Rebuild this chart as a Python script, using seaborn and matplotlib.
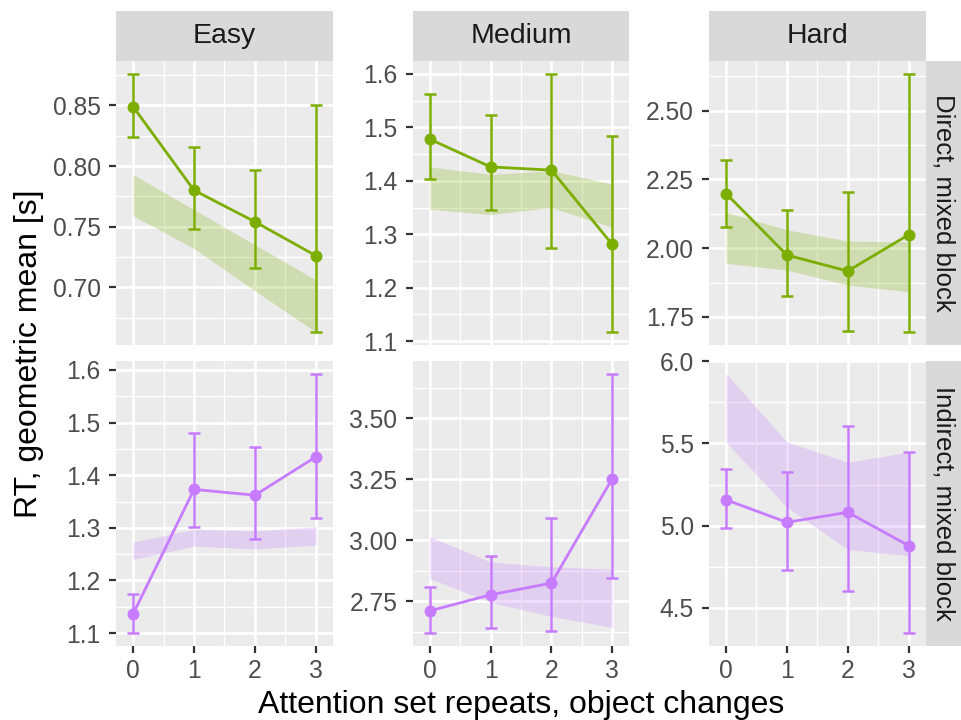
import numpy as np
import pandas as pd
import matplotlib
matplotlib.use("Agg")
import matplotlib.pyplot as plt
from matplotlib.ticker import FixedLocator, FormatStrFormatter
import seaborn as sns

sns.set_theme(style="darkgrid")
plt.rcParams['font.family'] = ['Liberation Sans', 'DejaVu Sans']

difficulties = ["Easy", "Medium", "Hard"]
blocks = ["Direct, mixed block", "Indirect, mixed block"]
repeats = [0, 1, 2, 3]

# observed geometric-mean RT [s] with 95% CI, per block x difficulty
direct_easy_rt = [0.849, 0.780, 0.754, 0.726]
direct_easy_lo = [0.824, 0.748, 0.716, 0.663]
direct_easy_hi = [0.876, 0.816, 0.797, 0.850]
direct_medium_rt = [1.478, 1.426, 1.420, 1.281]
direct_medium_lo = [1.403, 1.345, 1.274, 1.117]
direct_medium_hi = [1.563, 1.524, 1.600, 1.483]
direct_hard_rt = [2.199, 1.975, 1.917, 2.049]
direct_hard_lo = [2.079, 1.828, 1.699, 1.695]
direct_hard_hi = [2.321, 2.138, 2.203, 2.634]
indirect_easy_rt = [1.136, 1.373, 1.362, 1.435]
indirect_easy_lo = [1.100, 1.302, 1.279, 1.319]
indirect_easy_hi = [1.175, 1.480, 1.454, 1.593]
indirect_medium_rt = [2.710, 2.776, 2.824, 3.253]
indirect_medium_lo = [2.619, 2.638, 2.627, 2.844]
indirect_medium_hi = [2.810, 2.936, 3.092, 3.684]
indirect_hard_rt = [5.157, 5.020, 5.081, 4.878]
indirect_hard_lo = [4.986, 4.728, 4.604, 4.346]
indirect_hard_hi = [5.346, 5.325, 5.606, 5.451]

# model prediction band
direct_easy_band_lo = [0.759, 0.732, 0.697, 0.663]
direct_easy_band_hi = [0.793, 0.764, 0.735, 0.706]
direct_medium_band_lo = [1.347, 1.337, 1.350, 1.313]
direct_medium_band_hi = [1.426, 1.412, 1.419, 1.394]
direct_hard_band_lo = [1.945, 1.921, 1.866, 1.842]
direct_hard_band_hi = [2.131, 2.067, 2.026, 2.023]
indirect_easy_band_lo = [1.240, 1.265, 1.260, 1.267]
indirect_easy_band_hi = [1.273, 1.297, 1.294, 1.302]
indirect_medium_band_lo = [2.843, 2.745, 2.687, 2.642]
indirect_medium_band_hi = [3.015, 2.911, 2.891, 2.881]
indirect_hard_band_lo = [5.508, 5.112, 4.854, 4.817]
indirect_hard_band_hi = [5.925, 5.510, 5.386, 5.447]

# y-axis breaks per panel
direct_easy_ticks = [0.70, 0.75, 0.80, 0.85]
direct_medium_ticks = [1.1, 1.2, 1.3, 1.4, 1.5, 1.6]
direct_hard_ticks = [1.75, 2.00, 2.25, 2.50]
indirect_easy_ticks = [1.1, 1.2, 1.3, 1.4, 1.5, 1.6]
indirect_medium_ticks = [2.75, 3.00, 3.25, 3.50]
indirect_hard_ticks = [4.5, 5.0, 5.5, 6.0]

panels = {
    ("Direct, mixed block", "Easy"): (direct_easy_rt, direct_easy_lo, direct_easy_hi,
                                      direct_easy_band_lo, direct_easy_band_hi, direct_easy_ticks, "%.2f"),
    ("Direct, mixed block", "Medium"): (direct_medium_rt, direct_medium_lo, direct_medium_hi,
                                        direct_medium_band_lo, direct_medium_band_hi, direct_medium_ticks, "%.1f"),
    ("Direct, mixed block", "Hard"): (direct_hard_rt, direct_hard_lo, direct_hard_hi,
                                      direct_hard_band_lo, direct_hard_band_hi, direct_hard_ticks, "%.2f"),
    ("Indirect, mixed block", "Easy"): (indirect_easy_rt, indirect_easy_lo, indirect_easy_hi,
                                        indirect_easy_band_lo, indirect_easy_band_hi, indirect_easy_ticks, "%.1f"),
    ("Indirect, mixed block", "Medium"): (indirect_medium_rt, indirect_medium_lo, indirect_medium_hi,
                                          indirect_medium_band_lo, indirect_medium_band_hi, indirect_medium_ticks, "%.2f"),
    ("Indirect, mixed block", "Hard"): (indirect_hard_rt, indirect_hard_lo, indirect_hard_hi,
                                        indirect_hard_band_lo, indirect_hard_band_hi, indirect_hard_ticks, "%.1f"),
}
block_colors = {"Direct, mixed block": "#7CAE00", "Indirect, mixed block": "#C77CFF"}

W, H = 962, 720
fig = plt.figure(figsize=(W / 100, H / 100), dpi=100)
fig.patch.set_facecolor("white")

col_px = [(116, 333), (412.7, 629.3), (709, 925.7)]
row_px = [(61, 345), (360.7, 646)]
strip_top = 11
strip_right = 962

def rect(x0, y0, x1, y1):
    return [x0 / W, 1 - y1 / H, (x1 - x0) / W, (y1 - y0) / H]

GRID = "white"
BG = "#EBEBEB"
STRIP = "#D9D9D9"
TICKSIZE = 17.7
STRIPSIZE_TOP = 20.5
STRIPSIZE_RIGHT = 18.5

for r, block in enumerate(blocks):
    for c, diff in enumerate(difficulties):
        rt, lo, hi, blo, bhi, ticks, fmt = panels[(block, diff)]
        color = block_colors[block]
        df = pd.DataFrame({"repeats": repeats, "rt": rt, "lo": lo, "hi": hi,
                           "band_lo": blo, "band_hi": bhi})
        x0, x1 = col_px[c]
        y0, y1 = row_px[r]
        ax = fig.add_axes(rect(x0, y0, x1, y1))
        ax.set_facecolor(BG)
        for s in ax.spines.values():
            s.set_visible(False)

        ax.fill_between(df["repeats"], df["band_lo"], df["band_hi"],
                        color=color, alpha=0.25, linewidth=0, zorder=2)
        ax.errorbar(df["repeats"], df["rt"],
                    yerr=[df["rt"] - df["lo"], df["hi"] - df["rt"]],
                    fmt="none", ecolor=color, elinewidth=1.8, capsize=4.3,
                    capthick=1.8, zorder=3)
        sns.lineplot(data=df, x="repeats", y="rt", color=color, linewidth=2.0,
                     marker="o", markersize=8.6, markeredgewidth=0, ax=ax, zorder=4)

        # y range: data extent with 5% expansion
        ymin = min(min(lo), min(blo))
        ymax = max(max(hi), max(bhi))
        pad = 0.05 * (ymax - ymin)
        ax.set_ylim(ymin - pad, ymax + pad)
        ax.set_xlim(-0.28, 3.28)

        ax.yaxis.set_major_locator(FixedLocator(ticks))
        ax.yaxis.set_major_formatter(FormatStrFormatter(fmt))
        step = ticks[1] - ticks[0]
        minors = [ticks[0] - step / 2] + [t + step / 2 for t in ticks]
        ax.yaxis.set_minor_locator(FixedLocator(minors))
        ax.xaxis.set_major_locator(FixedLocator(repeats))
        ax.xaxis.set_minor_locator(FixedLocator([0.5, 1.5, 2.5]))
        ax.grid(which="major", color=GRID, linewidth=1.9)
        ax.grid(which="minor", color=GRID, linewidth=0.95)
        ax.set_axisbelow(True)
        ax.set_xlabel("")
        ax.set_ylabel("")
        ax.tick_params(axis="y", which="major", length=5, width=1.6, color="#333333",
                       labelcolor="#4D4D4D", labelsize=TICKSIZE, pad=6, left=True)
        ax.tick_params(axis="x", which="major", length=5, width=1.6, color="#333333",
                       labelcolor="#4D4D4D", labelsize=TICKSIZE, pad=4, bottom=True)
        ax.tick_params(which="minor", length=0)
        if r == 0:
            ax.set_xticklabels([])
            ax.tick_params(axis="x", length=0)

        # facet strips
        if r == 0:
            sax = fig.add_axes(rect(x0, strip_top, x1, y0))
            sax.set_facecolor(STRIP)
            sax.set_xticks([]); sax.set_yticks([])
            for s in sax.spines.values():
                s.set_visible(False)
            sax.text(0.5, 0.5, diff, ha="center", va="center", fontsize=STRIPSIZE_TOP,
                     color="#1A1A1A", transform=sax.transAxes)
        if c == 2:
            sax = fig.add_axes(rect(x1, y0, strip_right, y1))
            sax.set_facecolor(STRIP)
            sax.set_xticks([]); sax.set_yticks([])
            for s in sax.spines.values():
                s.set_visible(False)
            sax.text(0.5, 0.5, block, ha="center", va="center", fontsize=STRIPSIZE_RIGHT,
                     rotation=-90, color="#1A1A1A", transform=sax.transAxes)

fig.text(520.8 / W, 1 - 713 / H, "Attention set repeats, object changes",
         ha="center", va="baseline", fontsize=23, color="black")
fig.text(29 / W, 1 - 353.5 / H, "RT, geometric mean [s]", rotation=90,
         ha="center", va="center", fontsize=23, color="black")

fig.savefig("out.png", dpi=100, facecolor="white")
